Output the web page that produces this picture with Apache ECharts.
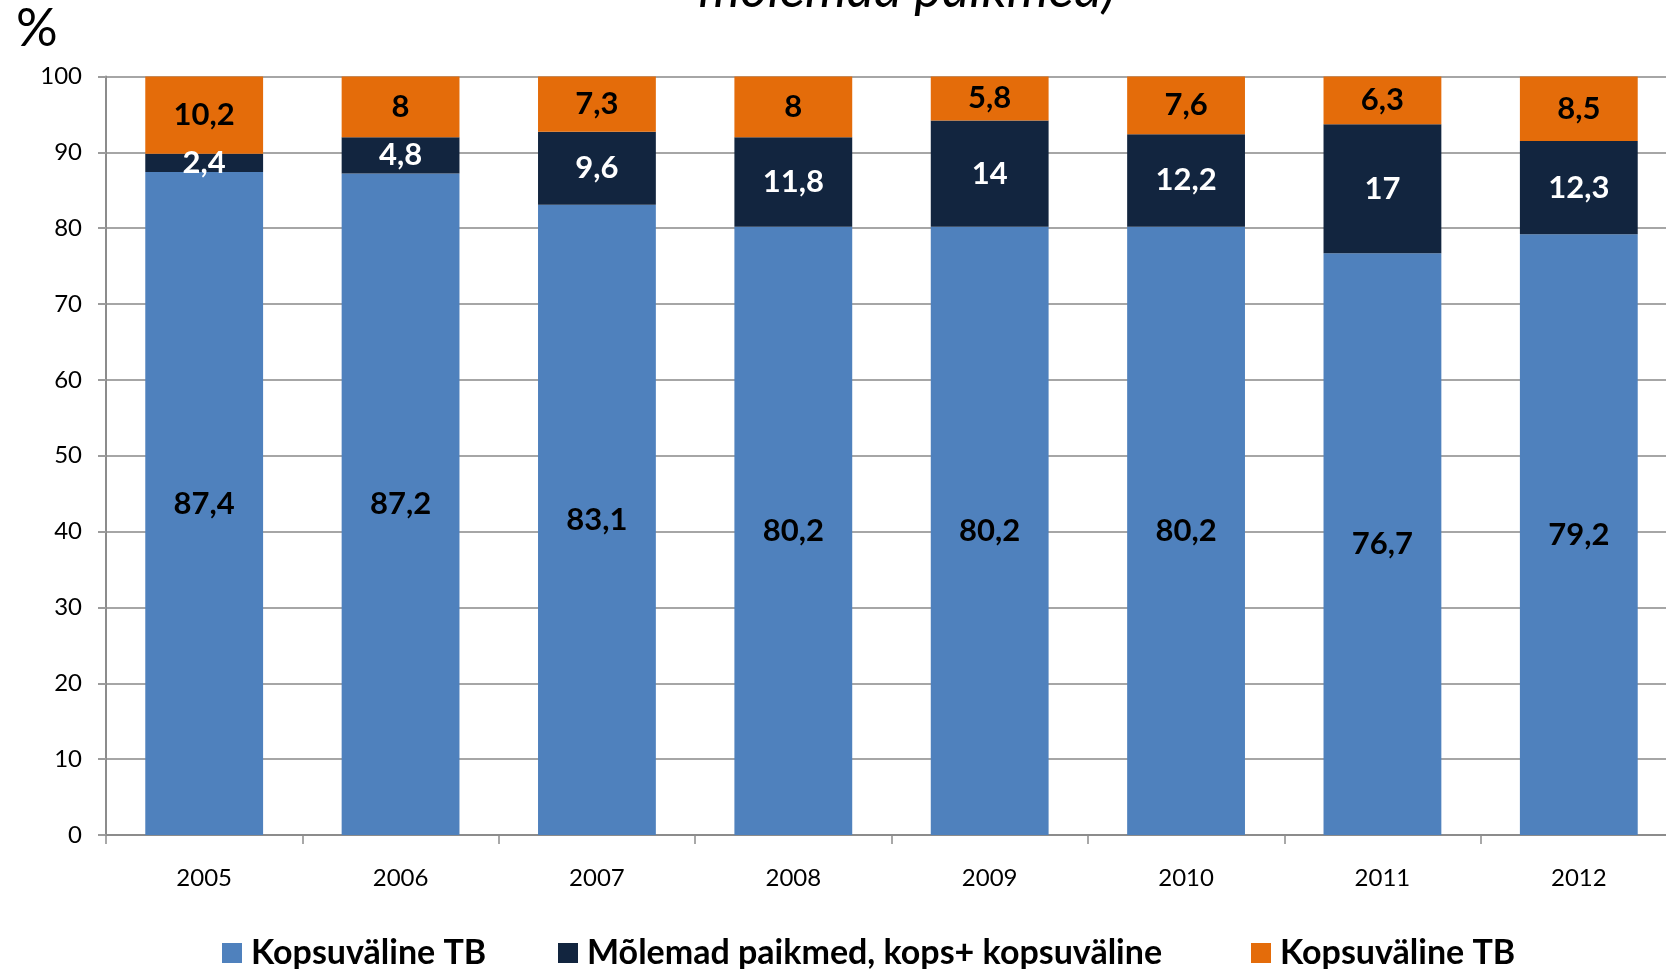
<!DOCTYPE html>
<html>
<head>
<meta charset="utf-8">
<script src="https://cdn.jsdelivr.net/npm/echarts@6/dist/echarts.min.js"></script>
<style>
  html, body { margin: 0; padding: 0; background: #fff; overflow: hidden; }
  /* the plot area runs a little past the right edge of the window */
  #chart { width: 1677px; height: 969px; }
</style>
</head>
<body>
<div id="chart"></div>
<script>
// Years on the category axis
const years = ['2005', '2006', '2007', '2008', '2009', '2010', '2011', '2012'];

// Share of cases (%) by site of disease
const seriesNames = ['Kopsuväline TB', 'Mõlemad paikmed, kops+ kopsuväline', 'Kopsuväline TB '];
const lungValues = [87.4, 87.2, 83.1, 80.2, 80.2, 80.2, 76.7, 79.2];
const bothValues = [2.4, 4.8, 9.6, 11.8, 14, 12.2, 17, 12.3];
const extraValues = [10.2, 8, 7.3, 8, 5.8, 7.6, 6.3, 8.5];

const colors = ['#4F81BD', '#12253F', '#E46C0A'];
const labelColors = ['#000000', '#FFFFFF', '#000000'];
const legendLefts = [217, 553, 1246];
const FONT = 'Lato, "Open Sans", sans-serif';

const chart = echarts.init(document.getElementById('chart'), null, { renderer: 'canvas' });

function stackSeries(name, values, idx) {
  return {
    name: name,
    type: 'bar',
    stack: 'total',
    data: values,
    barCategoryGap: '40%',
    itemStyle: { color: colors[idx] },
    label: {
      show: true,
      position: 'inside',
      color: labelColors[idx],
      fontFamily: FONT,
      fontWeight: 'bold',
      fontSize: 31,
      formatter: p => String(p.value).replace('.', ',')
    },
    emphasis: { disabled: true }
  };
}

// one legend block per entry so each sits at its own spot
const legends = seriesNames.map((name, i) => ({
  bottom: -6,
  left: legendLefts[i],
  itemWidth: 20,
  itemHeight: 20,
  icon: 'rect',
  textStyle: { fontFamily: FONT, fontWeight: 'bold', fontSize: 34, color: '#000', padding: [0, 0, 0, 4] },
  data: [name]
}));

chart.setOption({
  animation: false,
  color: colors,
  grid: { left: 106, top: 76.5, right: 0, bottom: 134, containLabel: false },
  graphic: [
    {
      type: 'text', left: 16, top: 3,
      style: { text: '%', fontFamily: FONT, fontSize: 52, fill: '#000' }
    },
    {
      type: 'text', x: 907, y: 16,
      style: {
        text: 'mõlemad paikmed)', fontFamily: FONT, fontStyle: 'italic',
        fontSize: 53, fill: '#000', align: 'center', verticalAlign: 'bottom'
      }
    }
  ],
  legend: legends,
  xAxis: {
    type: 'category',
    data: years,
    axisLine: { lineStyle: { color: '#8C8C8C', width: 2 } },
    axisTick: { show: true, length: 9, lineStyle: { color: '#8C8C8C', width: 1.5 } },
    axisLabel: { fontFamily: FONT, fontSize: 24, color: '#000', margin: 31 }
  },
  yAxis: {
    type: 'value',
    min: 0, max: 100, interval: 10,
    axisLine: { show: true, lineStyle: { color: '#8C8C8C', width: 2 } },
    axisTick: { show: true, length: 8, lineStyle: { color: '#9C9C9C', width: 2 } },
    axisLabel: { fontFamily: FONT, fontSize: 24, color: '#000', margin: 24 },
    splitLine: { lineStyle: { color: '#A6A6A6', width: 2 } }
  },
  series: [
    stackSeries(seriesNames[0], lungValues, 0),
    stackSeries(seriesNames[1], bothValues, 1),
    stackSeries(seriesNames[2], extraValues, 2)
  ]
});
</script>
</body>
</html>
